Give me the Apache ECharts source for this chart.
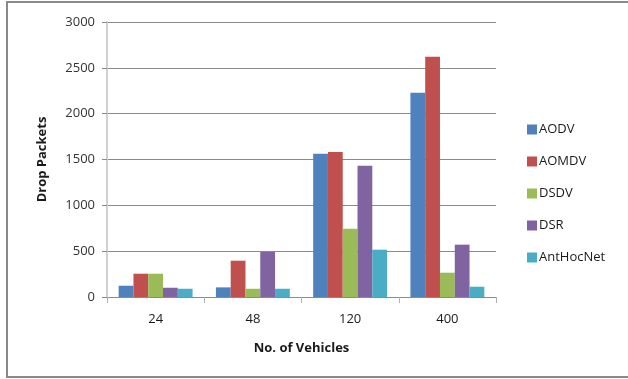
<!DOCTYPE html>
<html>
<head>
<meta charset="utf-8">
<script src="https://cdn.jsdelivr.net/npm/echarts@6/dist/echarts.min.js"></script>
<style>
  html, body { margin: 0; padding: 0; background: #fff; }
  #chart { width: 628px; height: 379px; }
</style>
</head>
<body>
<div id="chart"></div>
<script>
// Drop packets per routing protocol, by number of vehicles
const vehicles = ['24', '48', '120', '400'];
const aodv      = [123, 105, 1563, 2229];
const aomdv     = [254, 396, 1582, 2621];
const dsdv      = [254, 90, 745, 265];
const dsr       = [101, 491, 1432, 571];
const antHocNet = [90, 90, 516, 112];

const seriesNames  = ['AODV', 'AOMDV', 'DSDV', 'DSR', 'AntHocNet'];
const seriesValues = [aodv, aomdv, dsdv, dsr, antHocNet];
const seriesColors = ['#4f81bd', '#c0504d', '#9bbb59', '#8064a2', '#4bacc6'];

const font = '"Open Sans", "Liberation Sans", sans-serif';

const chart = echarts.init(document.getElementById('chart'), null, { renderer: 'canvas' });

chart.setOption({
  animation: false,
  backgroundColor: '#ffffff',
  graphic: [{
    type: 'rect',
    shape: { x: 7, y: 2, width: 630, height: 375 },
    style: { fill: 'none', stroke: '#8a8a8a', lineWidth: 2 },
    silent: true,
    z: 0
  }],
  grid: { left: 107, right: 132, top: 22, bottom: 82 },
  legend: {
    orient: 'vertical',
    left: 522,
    top: 118,
    itemWidth: 10,
    itemHeight: 10,
    itemGap: 19,
    icon: 'rect',
    textStyle: { fontFamily: font, fontSize: 13, color: '#1a1a1a', padding: [0, 0, 0, -3] },
    data: seriesNames
  },
  xAxis: {
    type: 'category',
    data: vehicles,
    name: 'No. of Vehicles',
    nameLocation: 'middle',
    nameGap: 45,
    nameTextStyle: { fontFamily: font, fontSize: 13, fontWeight: 'bold', color: '#1a1a1a' },
    axisLine: { lineStyle: { color: '#8a8a8a', width: 1 } },
    axisTick: { show: true, length: 6, lineStyle: { color: '#b0b0b0' } },
    axisLabel: { fontFamily: font, fontSize: 13, color: '#1a1a1a', margin: 16 }
  },
  yAxis: {
    type: 'value',
    min: 0,
    max: 3000,
    interval: 500,
    name: 'Drop Packets',
    nameLocation: 'middle',
    nameGap: 58,
    nameTextStyle: { fontFamily: font, fontSize: 13, fontWeight: 'bold', color: '#1a1a1a' },
    axisLine: { show: true, lineStyle: { color: '#d0d0d0', width: 2 } },
    axisTick: { show: true, length: 5, inside: false, lineStyle: { color: '#8a8a8a' } },
    axisLabel: { fontFamily: font, fontSize: 13, color: '#333', margin: 12, formatter: v => String(v) },
    splitLine: { lineStyle: { color: '#8a8a8a', width: 1 } }
  },
  series: seriesNames.map((name, i) => ({
    name: name,
    type: 'bar',
    data: seriesValues[i],
    barGap: '0%',
    barCategoryGap: '24%',
    itemStyle: { color: seriesColors[i] }
  }))
});
</script>
</body>
</html>
